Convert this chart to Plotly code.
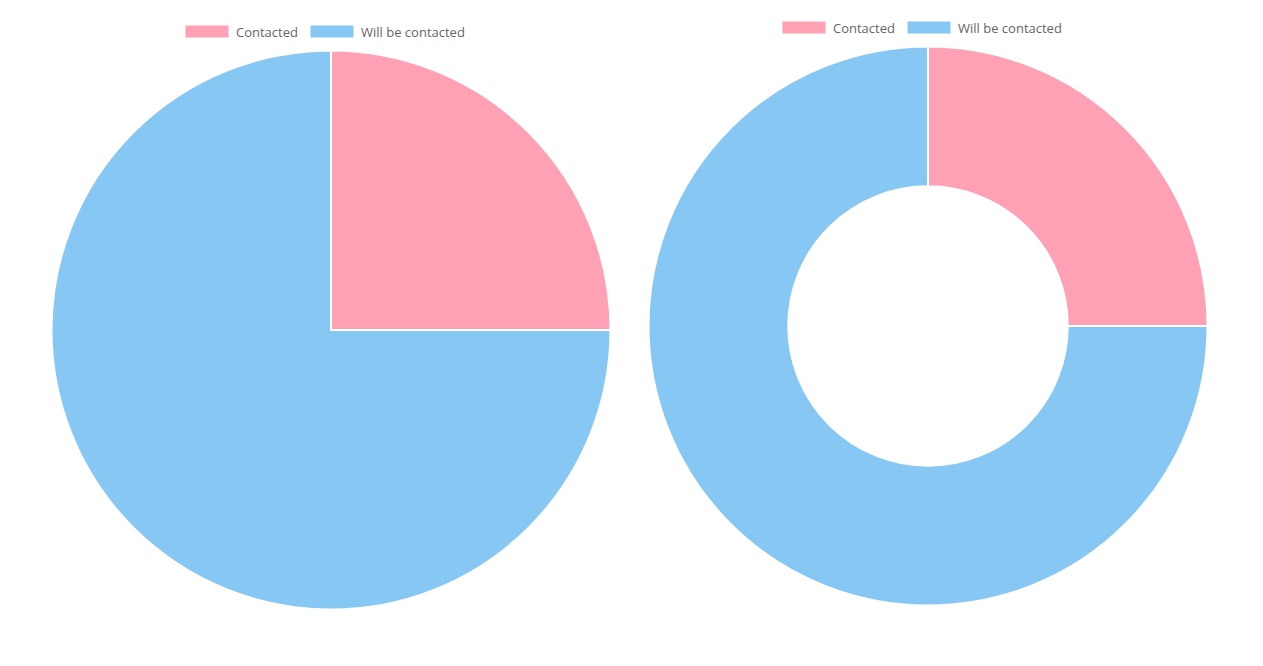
import plotly.graph_objects as go

W, H = 1263, 666
OFF = 8  # page body offset
labels = ["Contacted", "Will be contacted"]
values_pie = [25, 75]
values_donut = [25, 75]
colors = ["#FFA1B5", "#86C7F3"]

def px(x):
    return (x - OFF) / W

def py(y):
    return 1 - (y - OFF) / H

fig = go.Figure()
fig.add_trace(go.Pie(
    labels=labels, values=values_pie, sort=False, direction="clockwise", rotation=0,
    marker=dict(colors=colors, line=dict(color="white", width=2)),
    textinfo="none", hoverinfo="label+value", showlegend=False,
    domain=dict(x=[px(51.5), px(610.5)], y=[py(609.5), py(50.5)]),
))
fig.add_trace(go.Pie(
    labels=labels, values=values_donut, sort=False, direction="clockwise", rotation=0, hole=0.5,
    marker=dict(colors=colors, line=dict(color="white", width=2)),
    textinfo="none", hoverinfo="label+value", showlegend=False,
    domain=dict(x=[px(648.5), px(1207.5)], y=[py(605.5), py(46.5)]),
))

shapes = []
annotations = []
def legend(x0, yc, gap_x):
    xs = [x0, x0 + gap_x]
    for lab, col, bx in zip(labels, colors, xs):
        shapes.append(dict(type="rect", xref="paper", yref="paper",
                           x0=px(bx), x1=px(bx + 44), y0=py(yc + 6.5), y1=py(yc - 6.5),
                           fillcolor=col, line=dict(color="white", width=1)))
        annotations.append(dict(x=px(bx + 49), y=py(yc), xref="paper", yref="paper",
                                text=lab, showarrow=False, xanchor="left", yanchor="middle",
                                font=dict(family="Open Sans", size=13, color="#666666")))

legend(185, 31.5, 125)
legend(782, 27.5, 125)

fig.update_layout(
    width=W, height=H, margin=dict(l=0, r=0, t=0, b=0),
    paper_bgcolor="white", plot_bgcolor="white",
    shapes=shapes, annotations=annotations,
)
fig.write_html("out.html")
